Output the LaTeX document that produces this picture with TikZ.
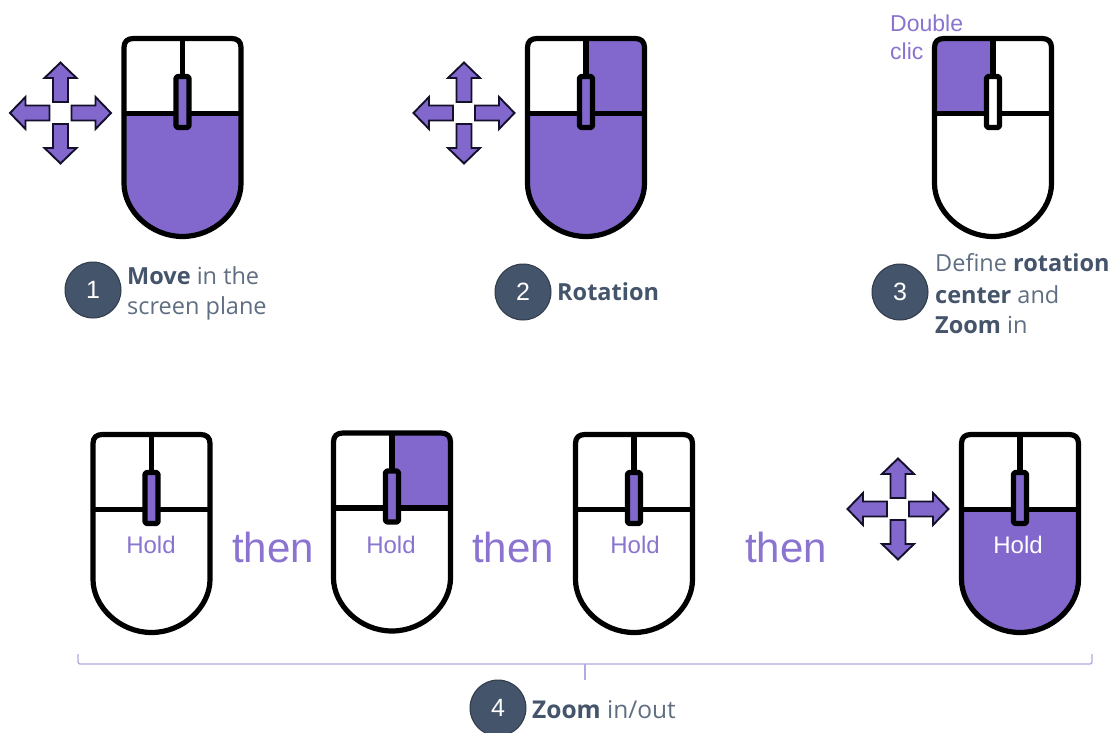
\documentclass[tikz,border=0pt]{standalone}
\usepackage{fontspec}
\setmainfont{Open Sans}
\newfontfamily\arialf{Liberation Sans}
\definecolor{purp}{HTML}{8268CC}
\definecolor{purptxt}{HTML}{8A74D0}
\definecolor{slate}{HTML}{44546A}
\definecolor{slatel}{HTML}{5F6E82}
\definecolor{brk}{HTML}{B4A8E0}
\definecolor{crossline}{HTML}{14102A}
\newcommand{\outlinepath}{(-58.5,145) -- (-58.5,9) .. controls (-58.5,3) and (-55,0) .. (-49,0) -- (49,0) .. controls (55,0) and (58.5,3) .. (58.5,9) -- (58.5,145) .. controls (58.5,172) and (32,198) .. (0,198) .. controls (-32,198) and (-58.5,172) .. (-58.5,145) -- cycle}
% #1 cx, #2 top, #3 top-left, #4 top-right, #5 bottom, #6 wheel
\newcommand{\mousepic}[6]{%
\begin{scope}[shift={(#1,#2)}]
\begin{scope}
\clip \outlinepath;
\fill[#3] (-60,-1) rectangle (0,75);
\fill[#4] (0,-1) rectangle (60,75);
\fill[#5] (-60,75) rectangle (60,200);
\end{scope}
\draw[mline] \outlinepath;
\draw[mline] (-58.5,75) -- (58.5,75);
\draw[mline] (0,0) -- (0,38);
\draw[mline,fill=#6,rounded corners=1.5pt] (-6.5,38) rectangle (6.5,89);
\end{scope}}
\newcommand{\arrowone}{(7.5,-11) -- (7.5,-35) -- (16,-35) -- (0,-50.5) -- (-16,-35) -- (-7.5,-35) -- (-7.5,-11) -- cycle}
% #1 cx, #2 cy
\newcommand{\crosspic}[2]{%
\begin{scope}[shift={(#1,#2)}]
\foreach \r in {0,90,180,270}{\draw[cross,rotate=\r] \arrowone;}
\end{scope}}
\tikzset{
 mline/.style={draw=black,line width=5.2pt,line join=round},
 cross/.style={draw=crossline,fill=purp,line width=1.9pt,line join=miter},
 numc/.style={circle,fill=slate,draw=slate!70!black,line width=1pt,minimum size=56pt,inner sep=0pt,text=white,font=\arialf\fontsize{25}{25}\selectfont},
 lab/.style={anchor=base west,inner sep=0pt,text=slatel,font=\fontsize{23.5}{23.5}\selectfont},
 hold/.style={inner sep=0pt,anchor=base,text=purptxt,font=\arialf\fontsize{24}{24}\selectfont},
 thenw/.style={inner sep=0pt,anchor=base,text=purptxt,font=\arialf\fontsize{42}{42}\selectfont},
 dbl/.style={anchor=base west,inner sep=0pt,text=purptxt,font=\arialf\fontsize{23}{23}\selectfont},
 brack/.style={draw=brk,line width=1.3pt,rounded corners=2pt},
}
\begin{document}
\begin{tikzpicture}[x=1pt,y=-1pt]
\useasboundingbox (0,0) rectangle (1113,733);
\fill[white] (0,0) rectangle (1113,733);
% top row
\mousepic{182.5}{38.5}{white}{white}{purp}{purp}
\crosspic{60.5}{113}
\mousepic{586}{38.5}{white}{purp}{purp}{purp}
\crosspic{464}{113}
\mousepic{993}{38.5}{purp}{white}{white}{white}
% bottom row
\mousepic{151.5}{434.5}{white}{white}{white}{purp}
\mousepic{392}{433}{white}{purp}{white}{purp}
\mousepic{634}{434.5}{white}{white}{white}{purp}
\mousepic{1020}{434.5}{white}{white}{purp}{purp}
\crosspic{898}{509}
% labels
\node[numc] (n1) at (93,290) {1};
\node[lab] (t1a) at (127,284) {\textbf{\color{slate}Move} in the};
\node[lab] (t1b) at (127,314) {screen plane};
\node[numc] (n2) at (523,292) {2};
\node[lab] (t2) at (557,300) {\textbf{\color{slate}Rotation}};
\node[numc] (n3) at (900,292) {3};
\node[lab] (t3a) at (935,271) {Define \textbf{\color{slate}rotation}};
\node[lab] (t3b) at (935,303) {\textbf{\color{slate}center} and};
\node[lab] (t3c) at (935,333) {\textbf{\color{slate}Zoom} in};
\node[dbl] (d1) at (890,32) {Double};
\node[dbl] (d2) at (890,60) {clic};
\node[hold] (h1) at (151,553) {Hold};
\node[hold] (h2) at (391,553) {Hold};
\node[hold] (h3) at (635,553) {Hold};
\node[hold,text=white] (h4) at (1018,553) {Hold};
\node[thenw] (th1) at (273,562) {then};
\node[thenw] (th2) at (513,562) {then};
\node[thenw] (th3) at (786,562) {then};
\coordinate (bl) at (78,654);
\coordinate (br) at (1092,654);
\coordinate (bc) at (585,664);
\coordinate (bt) at (585,680);
\draw[brack] (bl) -- (78,664) -- (1092,664) -- (br);
\draw[brack] (bc) -- (bt);
\node[numc] (n4) at (498,708) {4};
\node[lab,font=\fontsize{24.5}{24.5}\selectfont] (t4) at (532,718) {\textbf{\color{slate}Zoom} in/out};
\end{tikzpicture}
\end{document}
